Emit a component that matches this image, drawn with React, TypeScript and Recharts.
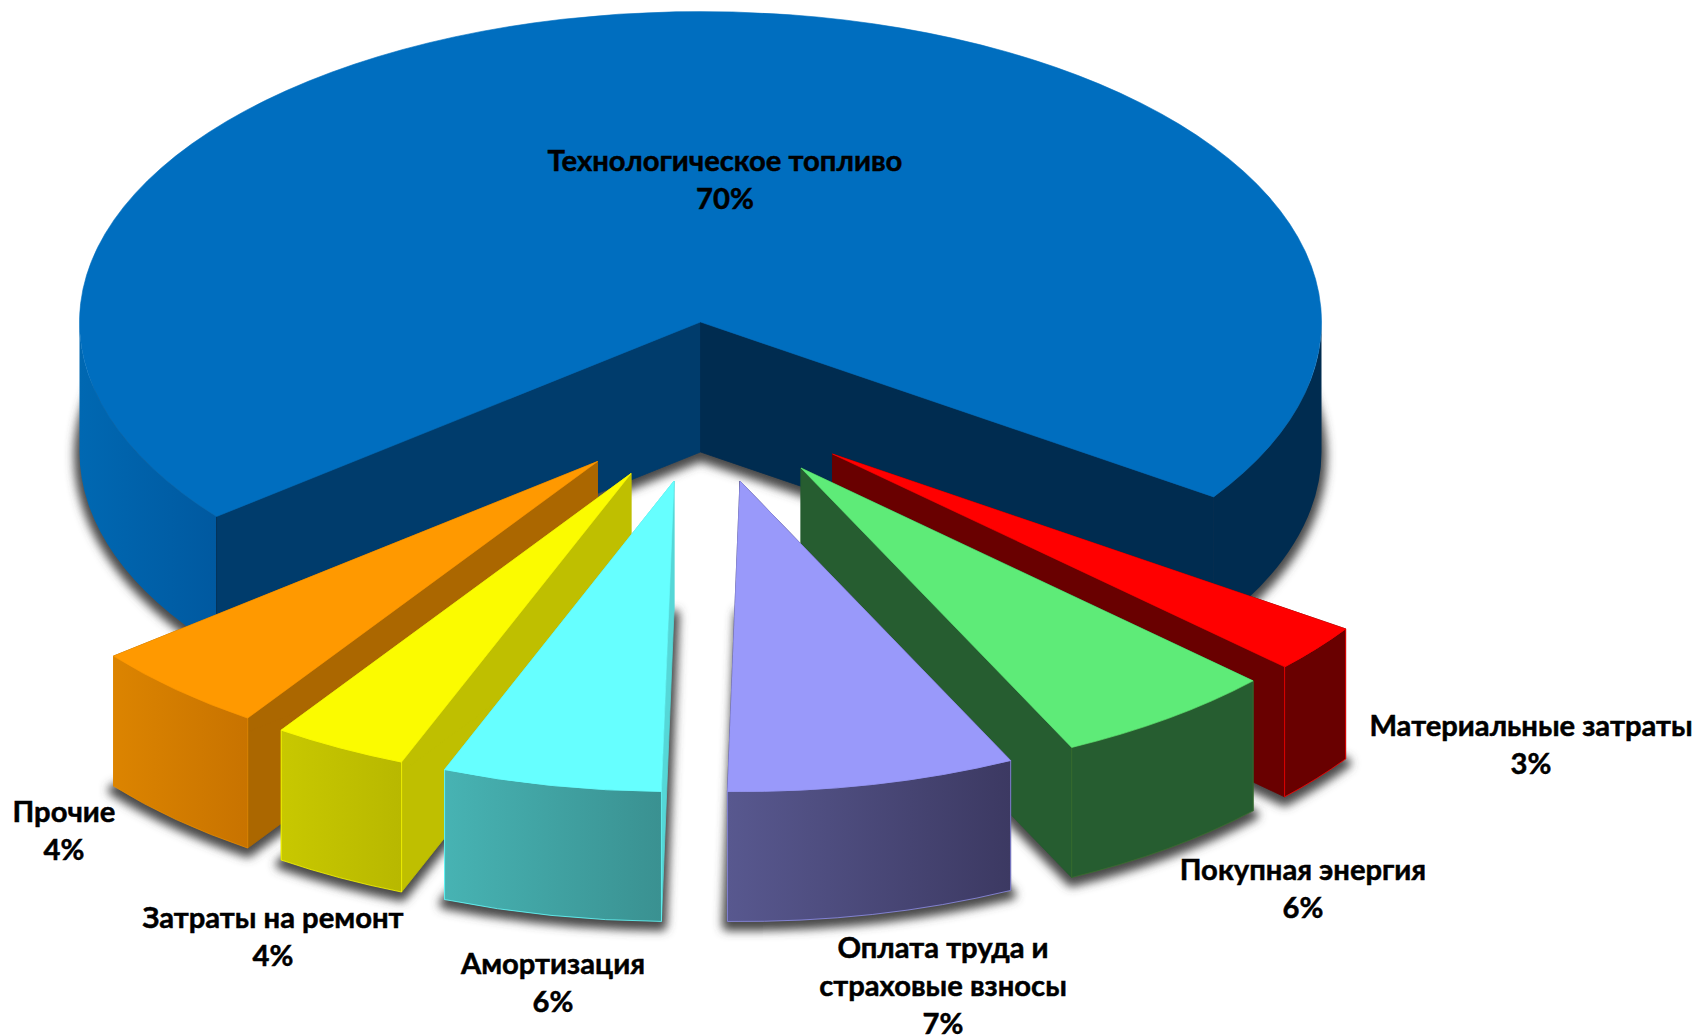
import { Pie, PieChart } from "recharts";

const sliceNames = [
  "Технологическое топливо",
  "Материальные затраты",
  "Покупная энергия",
  "Оплата труда и\nстраховые взносы",
  "Амортизация",
  "Затраты на ремонт",
  "Прочие",
];
// printed on the labels
const slicePercents = [70, 3, 6, 7, 6, 4, 4];
// measured from the drawn angle of each wedge, not the same as the rounded labels
const sliceShares = [70.3, 2.5, 5.8, 7.5, 5.7, 3.5, 4.7];

const table = sliceNames.map((name, i) => ({
  name,
  percent: slicePercents[i],
  value: sliceShares[i],
}));

const CX = 700.5;
const CY = 322;
const RADIUS = 621;
const TILT = 0.5;
const DEPTH = 130;
const START = -141.2;

const LAYER_BACK = sliceNames.slice(0, 4);

type Look = {
  dx: number;
  dy: number;
  top: string;
  wallLo: string;
  wallHi: string;
  rim: string[];
  edge: string;
  labelX: number;
  labelY: number;
};

const looks: Record<string, Look> = {
  [sliceNames[0]]: {
    dx: 0, dy: 0, top: "#006EBF", wallLo: "#003C6C", wallHi: "#002C50",
    rim: ["#0068B2", "#0059A0", "#002C50"], edge: "none", labelX: 725, labelY: 159,
  },
  [sliceNames[1]]: {
    dx: 132, dy: 132, top: "#FF0000", wallLo: "#690000", wallHi: "#690000",
    rim: ["#690000", "#690000"], edge: "#FF0000", labelX: 1531, labelY: 724,
  },
  [sliceNames[2]]: {
    dx: 100.5, dy: 146, top: "#5EEB78", wallLo: "#265D30", wallHi: "#265D30",
    rim: ["#265D30", "#265D30"], edge: "#3A6E2C", labelX: 1303, labelY: 868,
  },
  [sliceNames[3]]: {
    dx: 39.5, dy: 159, top: "#9999FA", wallLo: "#3C3962", wallHi: "#3C3962",
    rim: ["#58588F", "#3C3962"], edge: "#8F8FEA", labelX: 943, labelY: 946,
  },
  [sliceNames[4]]: {
    dx: -26.5, dy: 159, top: "#66FFFF", wallLo: "#55D7D7", wallHi: "#55D7D7",
    rim: ["#47B3B3", "#3A9191"], edge: "#66FFFF", labelX: 553, labelY: 962,
  },
  [sliceNames[5]]: {
    dx: -69.5, dy: 151.5, top: "#FBFB00", wallLo: "#BFBF00", wallHi: "#BFBF00",
    rim: ["#C8C800", "#B8B800"], edge: "#FBFB00", labelX: 273, labelY: 916,
  },
  [sliceNames[6]]: {
    dx: -103, dy: 139.5, top: "#FF9900", wallLo: "#AB6700", wallHi: "#AB6700",
    rim: ["#DC8400", "#C87300"], edge: "#E58A00", labelX: 64, labelY: 810,
  },
};

const rad = (deg: number) => (deg * Math.PI) / 180;

function geometry(props: any) {
  const { cx, cy, outerRadius, startAngle, endAngle, name } = props;
  const look = looks[name];
  const lo = Math.min(-startAngle, -endAngle);
  const hi = Math.max(-startAngle, -endAngle);
  const ox = cx + look.dx;
  const oy = cy + look.dy;
  const ry = outerRadius * TILT;
  const at = (deg: number, drop = 0) => ({
    x: ox + outerRadius * Math.cos(rad(deg)),
    y: oy + ry * Math.sin(rad(deg)) + drop,
  });
  const arcTo = (from: number, to: number, drop = 0) => {
    const p = at(to, drop);
    const large = Math.abs(to - from) > 180 ? 1 : 0;
    const sweep = to > from ? 1 : 0;
    return `A${outerRadius} ${ry} 0 ${large} ${sweep} ${p.x} ${p.y}`;
  };
  return { look, lo, hi, ox, oy, at, arcTo };
}

function face(g: ReturnType<typeof geometry>, drop = 0) {
  const a = g.at(g.lo, drop);
  return `M${g.ox} ${g.oy + drop}L${a.x} ${a.y}${g.arcTo(g.lo, g.hi, drop)}Z`;
}

function SliceShadow(props: any) {
  const g = geometry(props);
  return (
    <path
      d={face(g, DEPTH + 4)}
      fill="#4A4A4A"
      stroke="#4A4A4A"
      strokeWidth={11}
      strokeLinejoin="round"
      filter="url(#soft)"
    />
  );
}

function SliceBody(props: any) {
  const g = geometry(props);
  const { look, lo, hi, ox, oy, at, arcTo } = g;
  const wall = (deg: number, fill: string) => {
    const p = at(deg);
    return (
      <path
        d={`M${ox} ${oy}L${p.x} ${p.y}V${p.y + DEPTH}L${ox} ${oy + DEPTH}Z`}
        fill={fill}
        stroke={fill}
        strokeWidth={0.8}
      />
    );
  };
  // outer wall only where the edge faces the viewer (lower half of the ellipse)
  let rim = "";
  [0, 360].forEach((k) => {
    const from = Math.max(lo, k);
    const to = Math.min(hi, k + 180);
    if (to <= from) return;
    const a = at(from);
    const b = at(to, DEPTH);
    rim += `M${a.x} ${a.y}${arcTo(from, to)}L${b.x} ${b.y}${arcTo(to, from, DEPTH)}Z`;
  });
  return (
    <g>
      {wall(lo, look.wallLo)}
      {wall(hi, look.wallHi)}
      <path
        d={rim}
        fill={`url(#rim${sliceNames.indexOf(props.name)})`}
        stroke={look.edge === "none" ? look.wallHi : look.edge}
        strokeOpacity={look.edge === "none" ? 0 : 1}
        strokeWidth={0.8}
      />
      <path d={face(g)} fill={look.top} stroke={look.top} strokeWidth={0.6} />
    </g>
  );
}

const backShape = (props: any) =>
  LAYER_BACK.includes(props.name) ? <SliceBody {...props} /> : <g />;
const frontShape = (props: any) =>
  LAYER_BACK.includes(props.name) ? <g /> : <SliceBody {...props} />;

function SliceLabel(props: any) {
  const look = looks[props.name];
  const lines = [...props.name.split("\n"), `${props.percent}%`];
  return (
    <text
      textAnchor="middle"
      fontFamily="Lato, 'Noto Sans', sans-serif"
      fontWeight={700}
      fontSize={29.2}
      fill="#000"
      stroke="#000"
      strokeWidth={0.5}
    >
      {lines.map((line: string, i: number) => (
        <tspan key={line} x={look.labelX} y={look.labelY + i * 38} dominantBaseline="central">
          {line}
        </tspan>
      ))}
    </text>
  );
}

export default function App() {
  const shared = {
    dataKey: "value",
    nameKey: "name",
    cx: CX,
    cy: CY,
    outerRadius: RADIUS,
    stroke: "none",
    isAnimationActive: false,
  };
  return (
    <div style={{ position: "absolute", left: 0, top: 0, width: 1699, height: 1036, background: "#fff" }}>
      <PieChart width={1699} height={1036} margin={{ top: 0, right: 0, bottom: 0, left: 0 }}>
        <defs>
          <filter id="soft" x="-20%" y="-20%" width="140%" height="140%">
            <feGaussianBlur stdDeviation="5" />
          </filter>
          {sliceNames.map((name, i) => {
            const stops = looks[name].rim;
            if (i === 0) {
              return (
                <linearGradient key={name} id="rim0" x1="0" y1="0" x2="1" y2="0">
                  <stop offset="0" stopColor={stops[0]} />
                  <stop offset="0.11" stopColor={stops[1]} />
                  <stop offset="0.11" stopColor={stops[2]} />
                  <stop offset="1" stopColor={stops[2]} />
                </linearGradient>
              );
            }
            return (
              <linearGradient key={name} id={`rim${i}`} x1="0" y1="0" x2="1" y2="0">
                <stop offset="0" stopColor={stops[0]} />
                <stop offset="1" stopColor={stops[1]} />
              </linearGradient>
            );
          })}
        </defs>
        <Pie {...shared} data={table} startAngle={START} endAngle={START - 360} shape={SliceShadow} />
        <Pie {...shared} data={table} startAngle={START} endAngle={START - 360} shape={backShape} />
        {/* left wedges overlap the other way round, so this pie runs counter-clockwise */}
        <Pie
          {...shared}
          data={[...table].slice(1).reverse().concat(table[0])}
          startAngle={START}
          endAngle={START + 360}
          shape={frontShape}
          label={SliceLabel}
          labelLine={false}
        />
      </PieChart>
    </div>
  );
}
